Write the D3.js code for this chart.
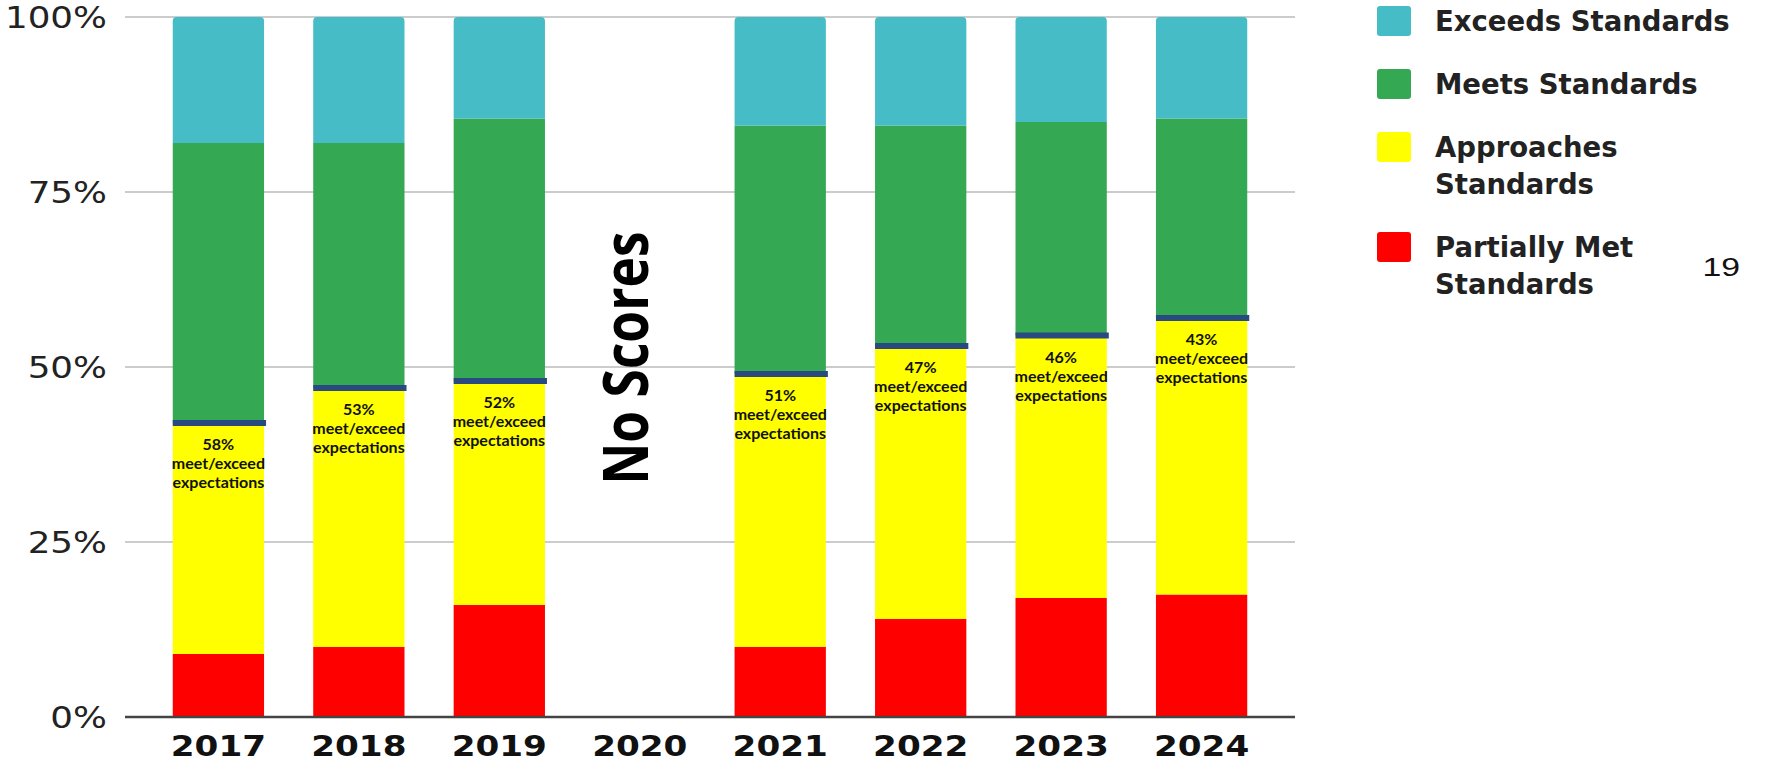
<!DOCTYPE html>
<html>
<head>
<meta charset="utf-8">
<script src="https://cdn.jsdelivr.net/npm/d3@7"></script>
<style>
  html, body { margin: 0; padding: 0; background: #ffffff; }
  svg { display: block; }
</style>
</head>
<body>
<svg id="chart" width="1766" height="765"></svg>
<script>
// ---- data ----
const years = ["2017", "2018", "2019", "2020", "2021", "2022", "2023", "2024"];
const partiallyMet = [9, 10, 16, null, 10, 14, 17, 17.5];
const approaches   = [33, 37, 32, null, 39, 39, 37.5, 39.5];
const meets        = [40, 35, 37.5, null, 35.5, 31.5, 30.5, 28.5];
const exceeds      = [18, 18, 14.5, null, 15.5, 15.5, 15, 14.5];
const meetExceedLabels = ["58%", "53%", "52%", null, "51%", "47%", "46%", "43%"];
const seriesNames = ["Partially Met Standards", "Approaches Standards", "Meets Standards", "Exceeds Standards"];
const legendLines = [["Exceeds Standards"], ["Meets Standards"], ["Approaches", "Standards"], ["Partially Met", "Standards"]];
const yTicks = [0, 25, 50, 75, 100];
const noScoresText = "No Scores";
const pageNumber = "19";

// ---- layout/styles ----
const colors = {
  "Partially Met Standards": "#ff0000",
  "Approaches Standards": "#ffff00",
  "Meets Standards": "#34a853",
  "Exceeds Standards": "#46bdc6"
};
const legendColors = ["#46bdc6", "#34a853", "#ffff00", "#ff0000"];

const svg = d3.select("#chart");
const x = d3.scaleBand().domain(years).range([125, 1295]).paddingInner(0.35).paddingOuter(0.34);
const y = d3.scaleLinear().domain([0, 100]).range([717, 17]);

const rows = years.map((yr, i) => ({
  year: yr,
  "Partially Met Standards": partiallyMet[i],
  "Approaches Standards": approaches[i],
  "Meets Standards": meets[i],
  "Exceeds Standards": exceeds[i],
  label: meetExceedLabels[i]
}));
const valid = rows.filter(r => r["Partially Met Standards"] != null);

// y axis labels
const yAxis = d3.axisLeft(y).tickValues(yTicks).tickFormat(d => d + "%").tickSize(0).tickPadding(0);
const gAxis = svg.append("g").attr("transform", "translate(107,0)").call(yAxis);
gAxis.select(".domain").remove();
gAxis.selectAll("text")
  .attr("font-family", "DejaVu Sans, sans-serif")
  .attr("font-size", 30)
  .attr("fill", "#222")
  .attr("x", 0)
  .attr("dy", "0.36em")
  .attr("transform", "scale(1.19,1)");

// gridlines
svg.append("g").selectAll("line")
  .data(yTicks.filter(t => t > 0))
  .join("line")
  .attr("x1", 125).attr("x2", 1295)
  .attr("y1", d => y(d)).attr("y2", d => y(d))
  .attr("stroke", "#cccccc").attr("stroke-width", 2);

// stacked bars
const stack = d3.stack().keys(seriesNames);
const stacked = stack(valid);
const gBars = svg.append("g");
stacked.forEach((layer, li) => {
  const isTop = li === stacked.length - 1;
  gBars.append("g").selectAll("path")
    .data(layer)
    .join("path")
    .attr("fill", colors[layer.key])
    .attr("d", d => {
      const x0 = x(d.data.year), w = x.bandwidth();
      const yTop = y(d[1]), yBot = y(d[0]);
      const r = isTop ? 4 : 0;
      return `M${x0},${yBot} L${x0},${yTop + r} Q${x0},${yTop} ${x0 + r},${yTop} L${x0 + w - r},${yTop} Q${x0 + w},${yTop} ${x0 + w},${yTop + r} L${x0 + w},${yBot} Z`;
    });
});

// meet/exceed divider line at top of "Approaches"
const approachTop = stacked[1];
svg.append("g").selectAll("rect")
  .data(approachTop)
  .join("rect")
  .attr("x", d => x(d.data.year))
  .attr("width", x.bandwidth() + 2)
  .attr("y", d => y(d[1]) - 3)
  .attr("height", 6)
  .attr("fill", "#284a80");

// meet/exceed labels
const gLab = svg.append("g")
  .attr("font-family", "Lato, 'Open Sans', sans-serif")
  .attr("font-weight", "bold")
  .attr("font-size", 16)
  .attr("fill", "#111")
  .attr("text-anchor", "middle");
approachTop.forEach(d => {
  const cx = x(d.data.year) + x.bandwidth() / 2;
  const yb = y(d[1]) + 27;
  const t = gLab.append("text").attr("x", cx).attr("y", yb);
  t.append("tspan").attr("x", cx).attr("dy", 0).text(d.data.label);
  t.append("tspan").attr("x", cx).attr("dy", 19).text("meet/exceed");
  t.append("tspan").attr("x", cx).attr("dy", 19).text("expectations");
});

// x axis
svg.append("line")
  .attr("x1", 125).attr("x2", 1295)
  .attr("y1", y(0)).attr("y2", y(0))
  .attr("stroke", "#444").attr("stroke-width", 2.5);

const xAxis = d3.axisBottom(x).tickSize(0).tickPadding(0);
const gx = svg.append("g").attr("transform", `translate(0,${y(0)})`).call(xAxis);
gx.select(".domain").remove();
gx.selectAll("text")
  .attr("font-family", "DejaVu Sans, sans-serif")
  .attr("font-weight", "bold")
  .attr("font-size", 29)
  .attr("fill", "#111")
  .attr("dy", 0)
  .attr("y", 39)
  .attr("transform", "scale(1.18,1)");

// No Scores
const cx2020 = x("2020") + x.bandwidth() / 2;
svg.append("text")
  .attr("transform", `translate(${cx2020 + 8},${358}) rotate(-90) scale(0.83,1)`)
  .attr("text-anchor", "middle")
  .attr("font-family", "'Open Sans', sans-serif")
  .attr("font-weight", "bold")
  .attr("font-size", 62)
  .attr("fill", "#000")
  .text(noScoresText);

// legend
const legendY = [21, 84, 147, 247];
const gLeg = svg.append("g");
legendLines.forEach((lines, i) => {
  gLeg.append("rect")
    .attr("x", 1377).attr("y", legendY[i] - 15)
    .attr("width", 34).attr("height", 30)
    .attr("rx", 3)
    .attr("fill", legendColors[i]);
  const t = gLeg.append("text")
    .attr("font-family", "DejaVu Sans, sans-serif")
    .attr("font-weight", "bold")
    .attr("font-size", 27.5)
    .attr("fill", "#222")
    .attr("x", 1435).attr("y", legendY[i] + 10);
  lines.forEach((ln, j) => {
    t.append("tspan").attr("x", 1435).attr("dy", j === 0 ? 0 : 36.5).text(ln);
  });
});

// page number
svg.append("text")
  .attr("transform", "translate(1740,276) scale(1.3,1)")
  .attr("text-anchor", "end")
  .attr("font-family", "Liberation Sans, Arial, sans-serif")
  .attr("font-size", 26)
  .attr("fill", "#111")
  .text(pageNumber);
</script>
</body>
</html>
